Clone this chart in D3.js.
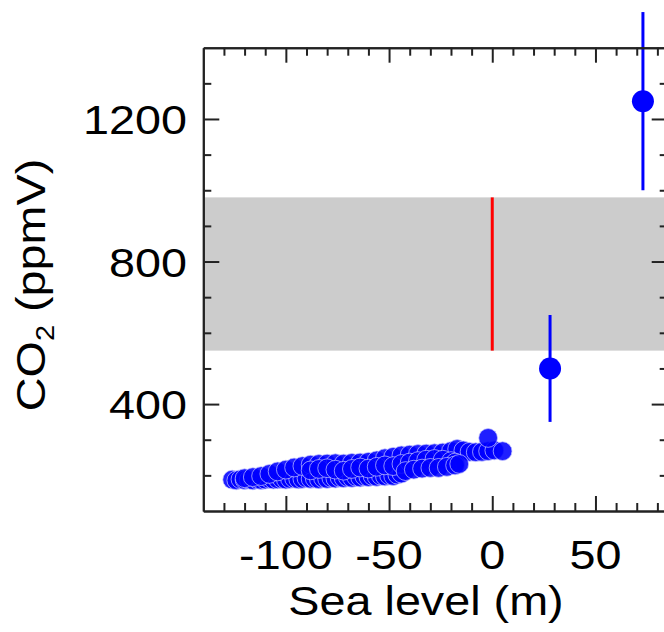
<!DOCTYPE html>
<html><head><meta charset="utf-8">
<script src="https://cdn.jsdelivr.net/npm/d3@7"></script>
<style>html,body{margin:0;padding:0;background:#fff;overflow:hidden}</style>
</head><body>
<svg id="c" width="664" height="632"></svg>
<script>
// Ice-core era: sea level (m) vs CO2 (ppmV)
const iceSea = [-126,-124,-122,-120,-118,-116,-114,-112,-110,-108,-106,-104,-102,-100,-98,-96,-94,-92,-90,-88,-86,-84,-82,-80,-78,-76,-74,-72,-70,-68,-66,-64,-62,-60,-58,-56,-54,-52,-50,-48,-46,-44,
  -120,-116,-112,-108,-104,-100,-96,-92,-88,-84,-80,-76,-72,-68,-64,-60,-56,-52,-48,-44,-40,-36,-32,-28,-24,-20,-17,-14,-11,-8,-5,-2,1,
  -88,-84,-80,-76,-72,-68,-64,-60,-56,-52,-48,-44,-40,-36,-32,-28,-24,-20,-18,
  -42,-38,-34,-30,-26,-22,-18,-16,
  -2,5];
const iceCO2 = [188,186,189,187,188,186,189,187,188,190,188,189,190,188,190,191,189,190,192,190,191,189,192,190,193,191,194,192,195,193,196,194,197,195,198,196,199,197,200,198,202,205,
  192,195,198,204,211,216,222,226,230,232,233,234,233,235,236,238,242,248,252,256,258,260,261,262,264,268,274,270,266,265,266,268,270,
  214,218,220,216,213,218,222,219,224,228,226,232,236,240,244,246,244,240,236,
  212,216,219,221,221,224,228,232,
  305,268];
// Proxy estimates with ranges
const proxySea = [28, 73];
const proxyCO2 = [500, 1250];
const proxyLow = [350, 1000];
const proxyHigh = [650, 1500];
// Shaded CO2 range and present-day sea level marker
const bandCO2 = [550, 980];
const markSea = 0;
// Axis ticks
const xMajor = [-100, -50, 0, 50];
const xMinor = [-130,-120,-110,-90,-80,-70,-60,-40,-30,-20,-10,10,20,30,40,60,70,80];
const yMajor = [400, 800, 1200];
const yMinor = [200, 300, 500, 600, 700, 900, 1000, 1100, 1300];

const svg = d3.select("#c");
const x = d3.scaleLinear().domain([-140, 85]).range([203.3, 667.7]);
const y = d3.scaleLinear().domain([100, 1400]).range([511, 47.7]);
const FS = 41, SX = 1.14, FONT = "'Liberation Sans', Arial, Helvetica, sans-serif";

// band
svg.append("rect")
  .attr("x", x(-140)).attr("width", x(85) - x(-140))
  .attr("y", y(bandCO2[1])).attr("height", y(bandCO2[0]) - y(bandCO2[1]))
  .attr("fill", "#cccccc");
// red line
svg.append("line")
  .attr("x1", x(markSea)).attr("x2", x(markSea))
  .attr("y1", y(bandCO2[0])).attr("y2", y(bandCO2[1]))
  .attr("stroke", "#ff0000").attr("stroke-width", 3);

// scatter cluster
const ice = iceSea.map((s, i) => ({s, c: iceCO2[i]}));
svg.append("g").selectAll("circle").data(ice).join("circle")
  .attr("cx", d => x(d.s)).attr("cy", d => y(d.c)).attr("r", 9.4)
  .attr("fill", "#0000ff").attr("fill-opacity", 0.88)
  .attr("stroke", "#c8c8ff").attr("stroke-opacity", 0.7).attr("stroke-width", 1);

// proxy points with error bars
const prox = proxySea.map((s, i) => ({s, c: proxyCO2[i], lo: proxyLow[i], hi: proxyHigh[i]}));
const pg = svg.append("g");
pg.selectAll("line").data(prox).join("line")
  .attr("x1", d => x(d.s)).attr("x2", d => x(d.s))
  .attr("y1", d => y(d.lo)).attr("y2", d => y(d.hi))
  .attr("stroke", "#0000ff").attr("stroke-width", 3);
pg.selectAll("circle").data(prox).join("circle")
  .attr("cx", d => x(d.s)).attr("cy", d => y(d.c)).attr("r", 11)
  .attr("fill", "#0000ff");

// axes (frame with inward ticks)
function styleAxis(g) {
  g.selectAll("path,line").attr("stroke", "#222").attr("stroke-width", 2);
  g.selectAll("text").remove();
}
const H = y(100), T = y(1400), L = x(-140), R = x(85);
svg.append("g").attr("transform", `translate(0,${H})`)
  .call(d3.axisBottom(x).tickValues(xMajor).tickSize(-15).tickSizeOuter(0).tickFormat("")).call(styleAxis);
svg.append("g").attr("transform", `translate(0,${H})`)
  .call(d3.axisBottom(x).tickValues(xMinor).tickSize(-8).tickSizeOuter(0).tickFormat("")).call(styleAxis);
svg.append("g").attr("transform", `translate(0,${T})`)
  .call(d3.axisTop(x).tickValues(xMajor).tickSize(-15).tickSizeOuter(0).tickFormat("")).call(styleAxis);
svg.append("g").attr("transform", `translate(0,${T})`)
  .call(d3.axisTop(x).tickValues(xMinor).tickSize(-8).tickSizeOuter(0).tickFormat("")).call(styleAxis);
svg.append("g").attr("transform", `translate(${L},0)`)
  .call(d3.axisLeft(y).tickValues(yMajor).tickSize(-16).tickSizeOuter(0).tickFormat("")).call(styleAxis);
svg.append("g").attr("transform", `translate(${L},0)`)
  .call(d3.axisLeft(y).tickValues(yMinor).tickSize(-8).tickSizeOuter(0).tickFormat("")).call(styleAxis);
svg.append("g").attr("transform", `translate(${R},0)`)
  .call(d3.axisRight(y).tickValues(yMajor).tickSize(-16).tickSizeOuter(0).tickFormat("")).call(styleAxis);
svg.append("g").attr("transform", `translate(${R},0)`)
  .call(d3.axisRight(y).tickValues(yMinor).tickSize(-8).tickSizeOuter(0).tickFormat("")).call(styleAxis);

// tick labels
const lab = svg.append("g").attr("font-family", FONT).attr("font-size", FS).attr("fill", "#000");
lab.selectAll("text.xl").data(xMajor).join("text").attr("class", "xl")
  .attr("transform", d => `translate(${x(d)},569) scale(${SX},1)`)
  .attr("text-anchor", "middle").text(d => d3.format("d")(d).replace("−", "-"));
lab.selectAll("text.yl").data(yMajor).join("text").attr("class", "yl")
  .attr("transform", d => `translate(187,${y(d) + 15}) scale(${SX},1)`)
  .attr("text-anchor", "end").text(d => d);

// titles
lab.append("text").attr("transform", `translate(426,615) scale(${SX},1)`)
  .attr("text-anchor", "middle").text("Sea level (m)");
const yt = lab.append("text").attr("transform", `translate(45,285) rotate(-90) scale(${SX},1)`)
  .attr("text-anchor", "middle");
yt.append("tspan").text("CO");
yt.append("tspan").attr("font-size", FS * 0.62).attr("dy", 9).text("2");
yt.append("tspan").attr("dy", -9).text(" (ppmV)");
</script>
</body></html>
